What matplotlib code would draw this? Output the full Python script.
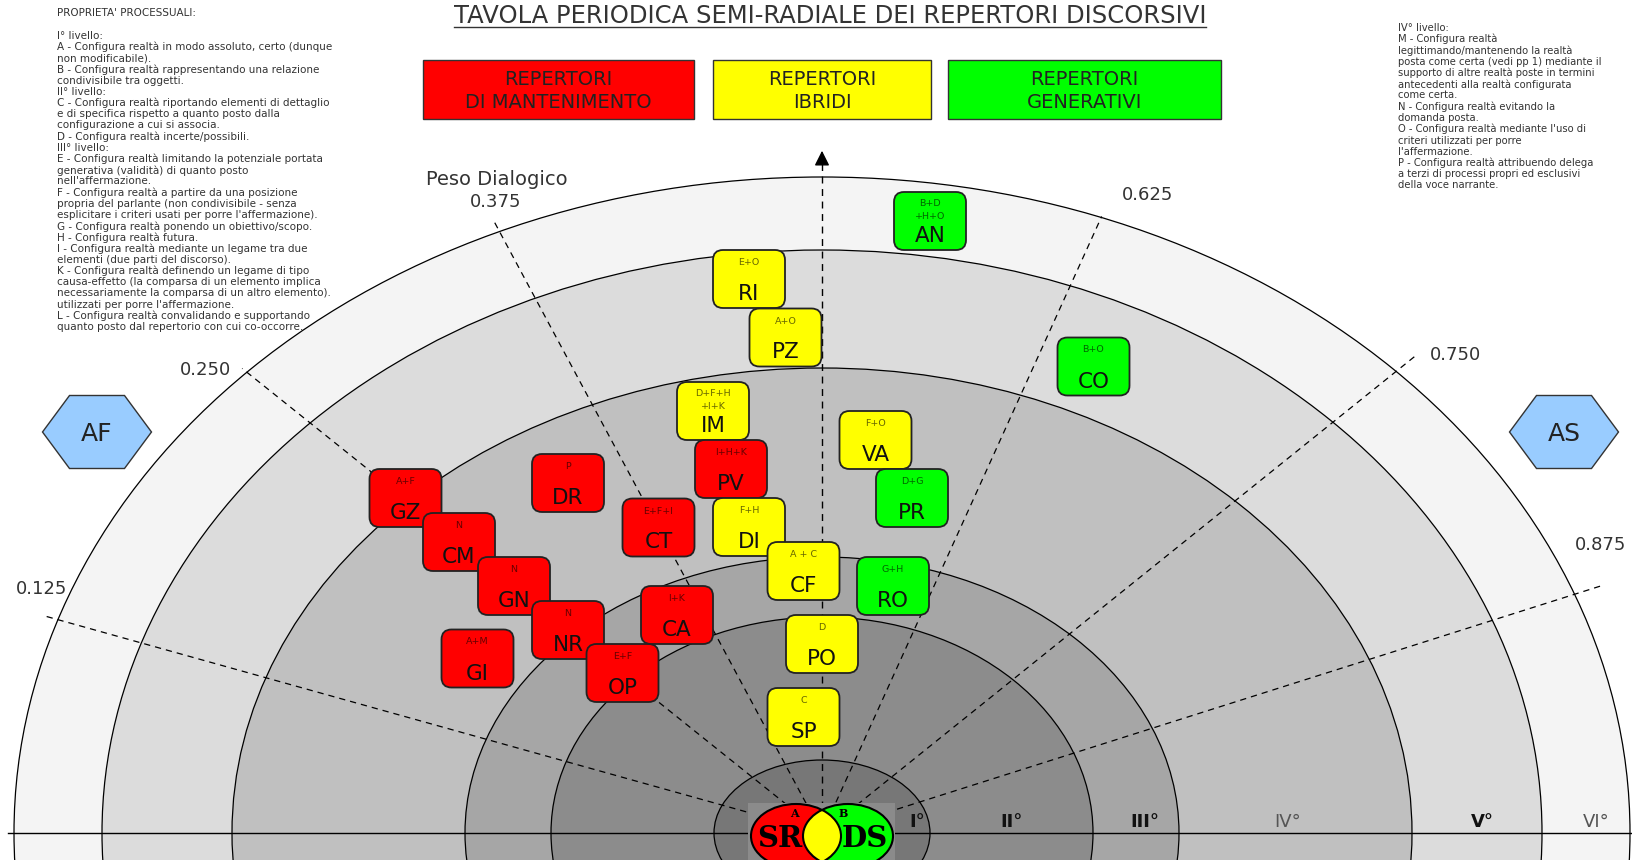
import matplotlib.pyplot as plt
import numpy as np
from matplotlib.patches import Ellipse, FancyBboxPatch, Polygon, Rectangle

W, H = 1633, 860

title = "TAVOLA PERIODICA SEMI-RADIALE DEI REPERTORI DISCORSIVI"

# repertori discorsivi: sigla, proprietà processuali, tipo (M=mantenimento, I=ibridi, G=generativi)
codes = ["GZ", "CM", "GN", "NR", "OP", "GI", "DR", "CT", "CA", "IM", "PV",
         "DI", "CF", "RI", "PZ", "PO", "SP", "VA", "PR", "RO", "AN", "CO"]
props = ["A+F", "N", "N", "N", "E+F", "A+M", "P", "E+F+I", "I+K", "D+F+H\n+I+K", "I+H+K",
         "F+H", "A + C", "E+O", "A+O", "D", "C", "F+O", "D+G", "G+H", "B+D\n+H+O", "B+O"]
kinds = ["M", "M", "M", "M", "M", "M", "M", "M", "M", "I", "M",
         "I", "I", "I", "I", "I", "I", "I", "G", "G", "G", "G"]

# posizione dei box sulla tavola (centro, pixel)
box_x = [405.5, 459, 514, 568, 622.5, 477.5, 568, 658.5, 677, 713, 731,
         749, 803.5, 749, 785.5, 822, 803.5, 875.5, 912, 893, 930, 1093.5]
box_y = [498, 542, 586, 630, 673, 658.5, 483, 527.5, 615, 411, 469,
         527, 571, 279, 337.5, 644, 717, 440, 498, 586, 221, 366.5]

kind_color = {"M": "#ff0000", "I": "#ffff00", "G": "#00ff00"}
legend_text = [["REPERTORI", "DI MANTENIMENTO"], ["REPERTORI", "IBRIDI"], ["REPERTORI", "GENERATIVI"]]
legend_kind = ["M", "I", "G"]
legend_span = [(423, 694), (713, 931), (948, 1221)]

# livelli (anelli), dall'esterno verso l'interno
ring_a = [808, 720, 590, 357, 271, 108]
ring_b = [656, 583, 465, 276, 216, 73]
ring_fill = ["#f4f4f4", "#dcdcdc", "#c0c0c0", "#a6a6a6", "#8c8c8c", "#777777"]

level_names = ["I°", "II°", "III°", "IV°", "V°", "VI°"]
level_x = [917, 1012, 1145, 1288, 1482, 1596]
level_bold = [True, True, True, False, True, False]

# peso dialogico
peso = [0.125, 0.250, 0.375, 0.625, 0.750, 0.875]
peso_angle = [164.4, 141.3, 118.2, 65.6, 38.8, 17.6]
peso_len = [810, 743, 693, 677, 765, 818]
peso_lab_xy = [(42, 594), (206, 375), (496, 207), (1148, 200), (1456, 360), (1601, 550)]

left_lines = [
    "PROPRIETA' PROCESSUALI:",
    "",
    "I° livello:",
    "A - Configura realtà in modo assoluto, certo (dunque",
    "non modificabile).",
    "B - Configura realtà rappresentando una relazione",
    "condivisibile tra oggetti.",
    "II° livello:",
    "C - Configura realtà riportando elementi di dettaglio",
    "e di specifica rispetto a quanto posto dalla",
    "configurazione a cui si associa.",
    "D - Configura realtà incerte/possibili.",
    "III° livello:",
    "E - Configura realtà limitando la potenziale portata",
    "generativa (validità) di quanto posto",
    "nell'affermazione.",
    "F - Configura realtà a partire da una posizione",
    "propria del parlante (non condivisibile - senza",
    "esplicitare i criteri usati per porre l'affermazione).",
    "G - Configura realtà ponendo un obiettivo/scopo.",
    "H - Configura realtà futura.",
    "I - Configura realtà mediante un legame tra due",
    "elementi (due parti del discorso).",
    "K - Configura realtà definendo un legame di tipo",
    "causa-effetto (la comparsa di un elemento implica",
    "necessariamente la comparsa di un altro elemento).",
    "utilizzati per porre l'affermazione.",
    "L - Configura realtà convalidando e supportando",
    "quanto posto dal repertorio con cui co-occorre.",
]
right_lines = [
    "IV° livello:",
    "M - Configura realtà",
    "legittimando/mantenendo la realtà",
    "posta come certa (vedi pp 1) mediante il",
    "supporto di altre realtà poste in termini",
    "antecedenti alla realtà configurata",
    "come certa.",
    "N - Configura realtà evitando la",
    "domanda posta.",
    "O - Configura realtà mediante l'uso di",
    "criteri utilizzati per porre",
    "l'affermazione.",
    "P - Configura realtà attribuendo delega",
    "a terzi di processi propri ed esclusivi",
    "della voce narrante.",
]

fig = plt.figure(figsize=(W / 100, H / 100), dpi=100)
ax = fig.add_axes([0, 0, 1, 1])
ax.set_xlim(0, W)
ax.set_ylim(H, 0)
ax.axis("off")

cx, cy = 822, 833
dash = (0, (5, 4))

# anelli
for a, b, c in zip(ring_a, ring_b, ring_fill):
    ax.add_patch(Ellipse((cx, cy), 2 * a, 2 * b, facecolor=c, edgecolor="black", lw=0.9, zorder=1))

ax.plot([8, W], [cy, cy], color="black", lw=1, zorder=2)

# assi del peso dialogico
for v, ang, ln, (lx, ly) in zip(peso, peso_angle, peso_len, peso_lab_xy):
    t = np.radians(ang)
    ax.plot([cx, cx + ln * np.cos(t)], [cy, cy - ln * np.sin(t)], color="black", lw=0.9, ls=dash, zorder=2)
    ax.text(lx, ly, f"{v:.3f}", ha="center", va="baseline", fontsize=13, color="#333333")
ax.text(497, 185, "Peso Dialogico", ha="center", va="baseline", fontsize=14, color="#333333")

ax.plot([cx, cx], [cy, 158], color="black", lw=1, ls=dash, zorder=3)
ax.annotate("", xy=(cx, 148), xytext=(cx, 161),
            arrowprops=dict(arrowstyle="-|>,head_length=0.9,head_width=0.45", color="black", lw=1))

for name, x, bold in zip(level_names, level_x, level_bold):
    ax.text(x, 827, name, ha="center", va="baseline", fontsize=13,
            fontweight="bold" if bold else "normal",
            color="#111111" if bold else "#555555", zorder=4)

# Venn SR / DS
ax.add_patch(Rectangle((748, 803), 147, 60, facecolor="#8b8b8b", edgecolor="none", zorder=3))
red = Ellipse((796, 836), 90, 64, facecolor="#ff0000", edgecolor="none", zorder=4)
green = Ellipse((848, 836), 90, 64, facecolor="#00ff00", edgecolor="none", zorder=4)
ax.add_patch(red)
ax.add_patch(green)
lens = Ellipse((796, 836), 90, 64, facecolor="#ffff00", edgecolor="none", zorder=5)
ax.add_patch(lens)
lens.set_clip_path(green)
for ex in (796, 848):
    ax.add_patch(Ellipse((ex, 836), 90, 64, facecolor="none", edgecolor="black", lw=1.5, zorder=6))
ax.text(794.5, 817, "A", ha="center", va="baseline", fontsize=8, fontweight="bold", family="DejaVu Serif", zorder=7)
ax.text(843, 817, "B", ha="center", va="baseline", fontsize=8, fontweight="bold", family="DejaVu Serif", zorder=7)
ax.text(779.5, 847, "SR", ha="center", va="baseline", fontsize=21, fontweight="bold", family="DejaVu Serif", zorder=7)
ax.text(865, 847, "DS", ha="center", va="baseline", fontsize=21, fontweight="bold", family="DejaVu Serif", zorder=7)

# esagoni AF / AS
for hx, lab in ((97, "AF"), (1564, "AS")):
    hy, hw, hh, tw = 432, 54.5, 36.5, 27.5
    pts = [(hx - hw, hy), (hx - tw, hy - hh), (hx + tw, hy - hh),
           (hx + hw, hy), (hx + tw, hy + hh), (hx - tw, hy + hh)]
    ax.add_patch(Polygon(pts, closed=True, facecolor="#99ccff", edgecolor="#333333", lw=1, zorder=5))
    ax.text(hx, hy + 9, lab, ha="center", va="baseline", fontsize=18, color="#222222", zorder=6)

# box dei repertori
bw, bh = 72, 58
for i, (code, pr, k, x, y) in enumerate(zip(codes, props, kinds, box_x, box_y)):
    top = y - bh / 2
    z = 10 + i
    ax.add_patch(FancyBboxPatch((x - bw / 2, top), bw, bh, boxstyle="round,pad=0,rounding_size=10",
                                facecolor=kind_color[k], edgecolor="#222222", lw=1.3, zorder=z))
    plines = pr.split("\n")
    for j, pl in enumerate(plines):
        base = top + (14 + 13 * j if len(plines) > 1 else 15)
        ax.text(x, base, pl, ha="center", va="baseline", fontsize=6.8, color="black", alpha=0.6, zorder=z)
    ax.text(x, top + 50, code, ha="center", va="baseline", fontsize=15.5, color="#111111", zorder=z)

# legenda
for lines, k, (x0, x1) in zip(legend_text, legend_kind, legend_span):
    ax.add_patch(Rectangle((x0, 60), x1 - x0, 59, facecolor=kind_color[k], edgecolor="#333333", lw=1, zorder=5))
    for j, ln in enumerate(lines):
        ax.text((x0 + x1) / 2, 85 + 23 * j, ln, ha="center", va="baseline", fontsize=14, color="#222222", zorder=6)

# titolo
ttl = ax.text(830, 23, title, ha="center", va="baseline", fontsize=17.5, color="#333333")
fig.canvas.draw()
bb = ttl.get_window_extent()
ax.plot([830 - bb.width / 2, 830 + bb.width / 2], [26.5, 26.5], color="#333333", lw=1)

for i, ln in enumerate(left_lines):
    ax.text(57, 13.5 + 11.2 * i, ln, ha="left", va="center", fontsize=7.5, color="#333333")
for i, ln in enumerate(right_lines):
    ax.text(1398, 28 + 11.25 * i, ln, ha="left", va="center", fontsize=7.2, color="#333333")

fig.savefig("out.png", dpi=100)
